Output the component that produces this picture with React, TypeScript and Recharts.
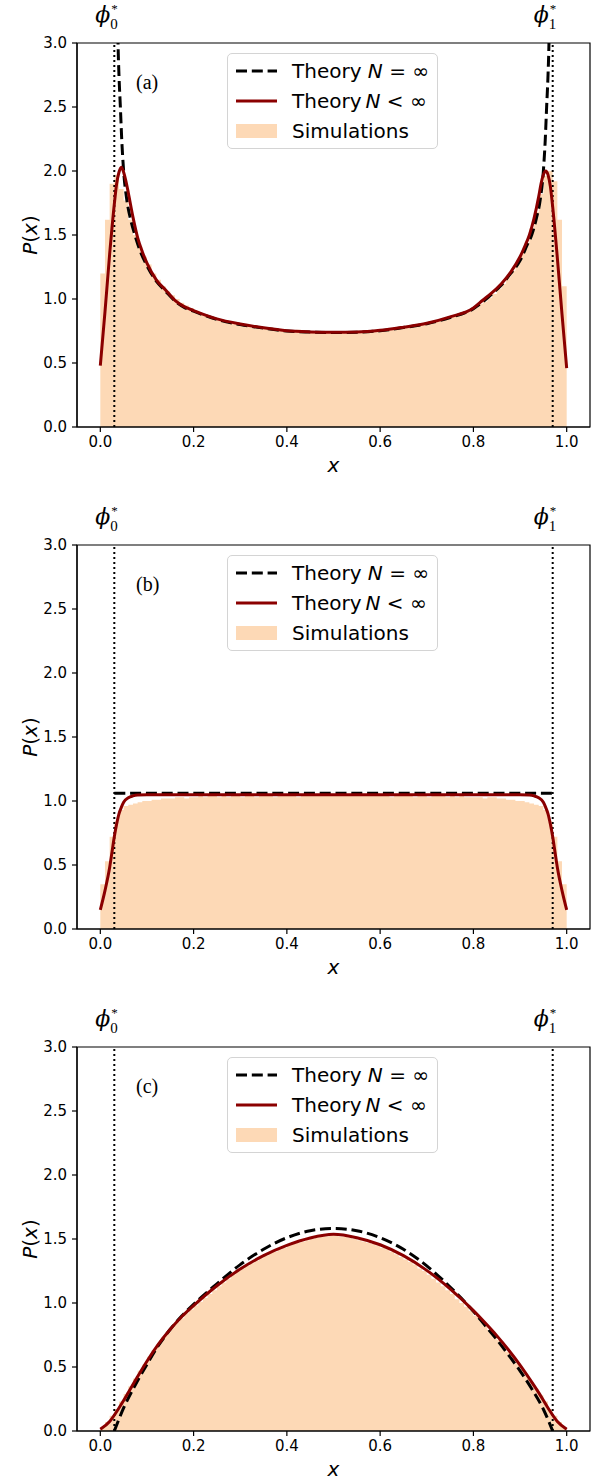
import React from 'react'
import {
  ComposedChart,
  Area,
  Line,
  XAxis,
  YAxis,
  ReferenceLine,
  ReferenceArea,
  Legend,
} from 'recharts'

type Pt = [number, number]

const PHI_0 = 0.03
const PHI_1 = 0.97
const X_TICKS = [0, 0.2, 0.4, 0.6, 0.8, 1.0]
const Y_TICKS = [0, 0.5, 1.0, 1.5, 2.0, 2.5, 3.0]
const BIN_WIDTH = 0.01
const PANEL_TAGS = ['(a)', '(b)', '(c)']

// simulated histograms, one height per bin of width 0.01 on [0, 1]
const histA = [
  1.2, 1.62, 1.9, 1.97, 1.86, 1.77, 1.62, 1.5, 1.41, 1.33,
  1.27, 1.2, 1.15, 1.1, 1.06, 1.03, 1.0, 0.97, 0.95, 0.93,
  0.91, 0.89, 0.88, 0.86, 0.85, 0.84, 0.83, 0.82, 0.81, 0.8,
  0.8, 0.79, 0.78, 0.78, 0.77, 0.77, 0.78, 0.76, 0.75, 0.75,
  0.75, 0.75, 0.76, 0.74, 0.74, 0.74, 0.75, 0.74, 0.74, 0.74,
  0.74, 0.74, 0.74, 0.75, 0.74, 0.74, 0.75, 0.74, 0.75, 0.75,
  0.75, 0.76, 0.76, 0.77, 0.77, 0.78, 0.78, 0.79, 0.8, 0.8,
  0.81, 0.82, 0.83, 0.84, 0.85, 0.86, 0.87, 0.89, 0.9, 0.92,
  0.93, 0.96, 0.98, 1.01, 1.04, 1.08, 1.12, 1.17, 1.22, 1.29,
  1.36, 1.44, 1.55, 1.68, 1.82, 1.96, 2.0, 1.92, 1.62, 1.1,
]
const histB = [
  0.35, 0.53, 0.72, 0.84, 0.93, 0.96, 0.97, 0.98, 0.99, 1.0,
  1.0, 1.01, 1.01, 1.02, 1.02, 1.02, 1.03, 1.03, 1.02, 1.03,
  1.03, 1.04, 1.03, 1.04, 1.06, 1.03, 1.04, 1.03, 1.04, 1.04,
  1.03, 1.04, 1.04, 1.03, 1.04, 1.04, 1.04, 1.03, 1.04, 1.04,
  1.04, 1.04, 1.03, 1.04, 1.04, 1.04, 1.04, 1.04, 1.04, 1.04,
  1.04, 1.04, 1.04, 1.04, 1.04, 1.04, 1.04, 1.04, 1.04, 1.06,
  1.04, 1.04, 1.03, 1.04, 1.04, 1.04, 1.04, 1.03, 1.04, 1.04,
  1.03, 1.04, 1.04, 1.04, 1.03, 1.04, 1.03, 1.04, 1.03, 1.03,
  1.03, 1.03, 1.02, 1.03, 1.03, 1.02, 1.02, 1.01, 1.01, 1.0,
  1.0, 0.99, 0.98, 0.97, 0.96, 0.93, 0.84, 0.72, 0.53, 0.35,
]
const histC = [
  0.03, 0.07, 0.12, 0.17, 0.23, 0.29, 0.35, 0.41, 0.47, 0.52,
  0.58, 0.63, 0.68, 0.73, 0.77, 0.81, 0.85, 0.88, 0.92, 0.95,
  0.98, 1.01, 1.04, 1.07, 1.1, 1.13, 1.16, 1.19, 1.22, 1.25,
  1.27, 1.29, 1.31, 1.33, 1.35, 1.37, 1.39, 1.4, 1.42, 1.43,
  1.45, 1.46, 1.47, 1.48, 1.49, 1.5, 1.51, 1.52, 1.52, 1.53,
  1.53, 1.52, 1.52, 1.51, 1.5, 1.49, 1.48, 1.47, 1.46, 1.45,
  1.43, 1.42, 1.4, 1.38, 1.36, 1.34, 1.32, 1.3, 1.27, 1.25,
  1.22, 1.19, 1.16, 1.13, 1.1, 1.07, 1.03, 1.0, 0.97, 0.94,
  0.9, 0.87, 0.83, 0.79, 0.75, 0.71, 0.67, 0.62, 0.58, 0.53,
  0.48, 0.43, 0.38, 0.33, 0.28, 0.23, 0.17, 0.12, 0.07, 0.03,
]

// theory, N = infinity  (x, P)
const infA: Pt[] = [
  [0.031, 9], [0.033, 5.2], [0.035, 3.9], [0.038, 3.0], [0.04, 2.75], [0.043, 2.5],
  [0.046, 2.24], [0.05, 2.0], [0.057, 1.77], [0.065, 1.62], [0.075, 1.49], [0.085, 1.38],
  [0.1, 1.26], [0.12, 1.14], [0.14, 1.06], [0.16, 0.985], [0.18, 0.935], [0.2, 0.905],
  [0.25, 0.84], [0.3, 0.8], [0.35, 0.772], [0.4, 0.75], [0.45, 0.742], [0.5, 0.738],
  [0.55, 0.74], [0.6, 0.752], [0.65, 0.777], [0.7, 0.807], [0.75, 0.855], [0.8, 0.925],
  [0.84, 1.04], [0.86, 1.11], [0.88, 1.2], [0.9, 1.3], [0.915, 1.42], [0.925, 1.5],
  [0.935, 1.63], [0.943, 1.77], [0.95, 2.0], [0.954, 2.24], [0.957, 2.5], [0.96, 2.75],
  [0.962, 3.0], [0.965, 3.9], [0.967, 5.2], [0.969, 9],
]
const infB: Pt[] = [[0.03, 1.06], [0.97, 1.06]]
const infC: Pt[] = [
  [0.03, 0], [0.05, 0.18], [0.075, 0.36], [0.1, 0.52], [0.125, 0.67], [0.15, 0.795],
  [0.175, 0.9], [0.2, 0.99], [0.25, 1.15], [0.3, 1.3], [0.35, 1.42], [0.4, 1.51],
  [0.45, 1.565], [0.5, 1.582], [0.55, 1.565], [0.6, 1.51], [0.65, 1.42], [0.7, 1.29],
  [0.75, 1.125], [0.8, 0.935], [0.825, 0.825], [0.85, 0.715], [0.875, 0.595], [0.9, 0.47],
  [0.925, 0.33], [0.95, 0.17], [0.97, 0],
]

// theory, finite N  (x, P)
const finA: Pt[] = [
  [0, 0.48], [0.01, 0.9], [0.02, 1.35], [0.03, 1.74], [0.035, 1.9], [0.04, 1.99],
  [0.045, 2.03], [0.05, 1.99], [0.055, 1.92], [0.06, 1.83], [0.07, 1.64], [0.08, 1.48],
  [0.09, 1.37], [0.1, 1.28], [0.12, 1.15], [0.14, 1.07], [0.16, 0.99], [0.18, 0.94],
  [0.2, 0.91], [0.25, 0.845], [0.3, 0.805], [0.35, 0.775], [0.4, 0.752], [0.45, 0.743],
  [0.5, 0.74], [0.55, 0.742], [0.6, 0.755], [0.65, 0.78], [0.7, 0.81], [0.75, 0.86],
  [0.8, 0.93], [0.82, 0.99], [0.84, 1.05], [0.86, 1.12], [0.88, 1.21], [0.9, 1.33],
  [0.91, 1.41], [0.92, 1.5], [0.93, 1.63], [0.94, 1.8], [0.945, 1.9], [0.95, 1.97],
  [0.955, 2.0], [0.96, 1.97], [0.965, 1.88], [0.97, 1.72], [0.98, 1.32], [0.99, 0.88],
  [1.0, 0.46],
]
const finB: Pt[] = [
  [0, 0.15], [0.01, 0.3], [0.02, 0.48], [0.025, 0.6], [0.03, 0.72], [0.035, 0.82],
  [0.04, 0.9], [0.045, 0.95], [0.05, 0.99], [0.06, 1.025], [0.07, 1.04], [0.08, 1.046],
  [0.1, 1.048], [0.5, 1.048], [0.9, 1.048], [0.92, 1.046], [0.93, 1.04], [0.94, 1.025],
  [0.95, 0.99], [0.955, 0.95], [0.96, 0.9], [0.965, 0.82], [0.97, 0.72], [0.975, 0.6],
  [0.98, 0.48], [0.99, 0.3], [1.0, 0.15],
]
const finC: Pt[] = [
  [0, 0.013], [0.02, 0.075], [0.04, 0.18], [0.06, 0.3], [0.08, 0.425], [0.1, 0.545],
  [0.125, 0.68], [0.15, 0.795], [0.175, 0.895], [0.2, 0.98], [0.25, 1.135], [0.3, 1.265],
  [0.35, 1.37], [0.4, 1.45], [0.45, 1.508], [0.5, 1.537], [0.55, 1.51], [0.6, 1.455],
  [0.65, 1.37], [0.7, 1.255], [0.75, 1.11], [0.8, 0.94], [0.825, 0.845], [0.85, 0.745],
  [0.875, 0.635], [0.9, 0.515], [0.92, 0.41], [0.94, 0.3], [0.96, 0.18], [0.98, 0.075],
  [1.0, 0.013],
]

const HIST_FILL = '#fdd9b6'
const DARK_RED = '#8b0000'
const SANS = "'DejaVu Sans', sans-serif"
const SERIF = "'Liberation Serif', 'DejaVu Serif', serif"

const tickStyle = { fontSize: 15, fill: '#000', fontFamily: SANS }

const xTitle = (props: any) => {
  const vb = props.viewBox || { x: 77, y: 427, width: 513 }
  return (
    <text x={vb.x + vb.width / 2} y={vb.y + 45} textAnchor="middle" fontFamily={SANS} fontSize={20} fontStyle="italic">
      x
    </text>
  )
}

const yTitle = (props: any) => {
  const vb = props.viewBox || { x: 0, y: 43, height: 384 }
  const cy = vb.y + vb.height / 2
  return (
    <text transform={`translate(37,${cy}) rotate(-90)`} textAnchor="middle" fontFamily={SANS} fontSize={20}>
      <tspan fontStyle="italic">P</tspan>(<tspan fontStyle="italic">x</tspan>)
    </text>
  )
}

// phi_k^* above each dotted line, sub/superscript stacked at the same x
const phiLabel = (sub: string) => (props: any) => {
  const x = props.viewBox ? props.viewBox.x : 0
  return (
    <text x={x - 19} y={22} fontFamily={SERIF}>
      <tspan fontFamily="'DejaVu Serif', serif" fontStyle="italic" fontSize={22}>{'\u03d5'}</tspan>
      <tspan x={x - 4} y={29} fontSize={15}>{sub}</tspan>
      <tspan x={x - 3} y={13} fontSize={13}>*</tspan>
    </text>
  )
}

const tagLabel = (tag: string) => (props: any) => {
  const vb = props.viewBox || { x: 77, y: 43 }
  return (
    <text x={vb.x + 59} y={vb.y + 46} fontFamily={SERIF} fontSize={20}>
      {tag}
    </text>
  )
}

const renderLegend = () => {
  const row = (top: number, handle: React.ReactNode, text: React.ReactNode) => (
    <div style={{ position: 'absolute', left: 0, top, height: 30, width: '100%', display: 'flex', alignItems: 'center' }}>
      <svg width={41} height={30} style={{ marginLeft: 8, marginRight: 15 }}>{handle}</svg>
      <span style={{ whiteSpace: 'nowrap' }}>{text}</span>
    </div>
  )
  return (
    <div
      style={{
        position: 'relative',
        boxSizing: 'border-box',
        width: 211,
        height: 96,
        border: '1px solid #d4d4d4',
        borderRadius: 5,
        background: 'rgba(255,255,255,0.85)',
        fontFamily: SANS,
        fontSize: 20,
        color: '#000',
        lineHeight: '30px',
      }}
    >
      {row(2, <line x1={0} x2={41} y1={15} y2={15} stroke="#000" strokeWidth={3} strokeDasharray="11 4.8" />,
        <>Theory <i>N</i> = ∞</>)}
      {row(32, <line x1={0} x2={41} y1={15} y2={15} stroke={DARK_RED} strokeWidth={3} />,
        <>Theory{'\u2009'}<i>N</i> &lt; ∞</>)}
      {row(62, <rect x={0} y={8} width={41} height={14} fill={HIST_FILL} />, <>Simulations</>)}
    </div>
  )
}

function Panel({ tag, hist, inf, fin, height }: { tag: string; hist: number[]; inf: Pt[]; fin: Pt[]; height: number }) {
  const histData = [
    ...hist.map((v, i) => ({ x: Math.round(i * BIN_WIDTH * 100) / 100, y: v })),
    { x: 1, y: hist[hist.length - 1] },
  ]
  const infData = inf.map(([x, y]) => ({ x, y }))
  const finData = fin.map(([x, y]) => ({ x, y }))

  return (
    <ComposedChart width={606} height={height} margin={{ top: 43, right: 16, bottom: height - 467, left: 0 }}>
      <XAxis
        type="number"
        dataKey="x"
        domain={[-0.05, 1.05]}
        ticks={X_TICKS}
        tickFormatter={(v: number) => v.toFixed(1)}
        allowDataOverflow
        height={40}
        tickSize={5}
        tickMargin={4}
        tick={tickStyle}
        axisLine={{ stroke: '#000', strokeWidth: 1.2 }}
        tickLine={{ stroke: '#000', strokeWidth: 1.2 }}
        label={xTitle}
      />
      <YAxis
        type="number"
        domain={[0, 3]}
        ticks={Y_TICKS}
        tickFormatter={(v: number) => v.toFixed(1)}
        allowDataOverflow
        width={77}
        tickSize={5}
        tickMargin={5}
        tick={tickStyle}
        axisLine={{ stroke: '#000', strokeWidth: 1.2 }}
        tickLine={{ stroke: '#000', strokeWidth: 1.2 }}
        label={yTitle}
      />
      <Area
        data={histData}
        dataKey="y"
        type="stepAfter"
        fill={HIST_FILL}
        fillOpacity={1}
        stroke="none"
        isAnimationActive={false}
      />
      <ReferenceLine x={PHI_0} stroke="#000" strokeWidth={2} strokeDasharray="2 3" label={phiLabel('0')} />
      <ReferenceLine x={PHI_1} stroke="#000" strokeWidth={2} strokeDasharray="2 3" label={phiLabel('1')} />
      <Line
        data={infData}
        dataKey="y"
        type="monotone"
        stroke="#000"
        strokeWidth={3}
        strokeDasharray="11 4.8"
        dot={false}
        activeDot={false}
        isAnimationActive={false}
      />
      <Line
        data={finData}
        dataKey="y"
        type="monotone"
        stroke={DARK_RED}
        strokeWidth={3}
        dot={false}
        activeDot={false}
        isAnimationActive={false}
      />
      <ReferenceArea x1={-0.05} x2={1.05} y1={0} y2={3} fill="none" stroke="#000" strokeWidth={1.2} label={tagLabel(tag)} />
      <Legend
        layout="horizontal"
        verticalAlign="middle"
        align="center"
        wrapperStyle={{ top: 53, left: 227, width: 211, height: 96 }}
        content={renderLegend}
      />
    </ComposedChart>
  )
}

export default function App() {
  return (
    <div style={{ position: 'absolute', left: 0, top: 0, width: 606, background: '#fff' }}>
      <Panel tag={PANEL_TAGS[0]} hist={histA} inf={infA} fin={finA} height={502} />
      <Panel tag={PANEL_TAGS[1]} hist={histB} inf={infB} fin={finB} height={502} />
      <Panel tag={PANEL_TAGS[2]} hist={histC} inf={infC} fin={finC} height={477} />
    </div>
  )
}
